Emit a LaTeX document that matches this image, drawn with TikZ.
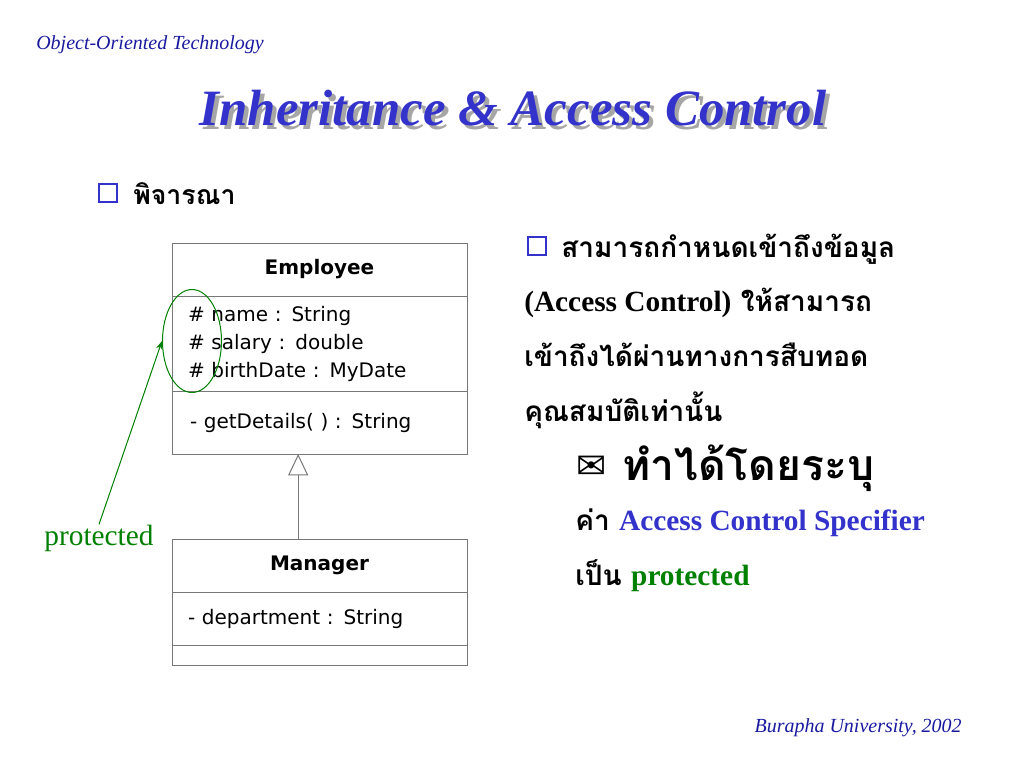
\documentclass[tikz,border=0pt]{standalone}
\usepackage{fontspec}
\setmainfont{Liberation Serif}
\newfontfamily\thaifont[Script=Thai]{Loma}
\newfontfamily\umlfont{DejaVu Sans}
\newfontfamily\symfont{DejaVu Sans}
\usetikzlibrary{arrows, arrows.meta, shapes, positioning}
\definecolor{titleblue}{RGB}{51,51,204}
\definecolor{headblue}{RGB}{26,26,160}
\definecolor{markgreen}{RGB}{0,128,0}
\definecolor{umlgray}{RGB}{120,120,120}

\begin{document}
\begin{tikzpicture}[x=0.75pt, y=-0.75pt,
    compart/.style={draw=umlgray, line width=0.75pt, minimum width=221.25pt,
        inner sep=0pt, outer sep=0pt, font=\umlfont\fontsize{15}{21}\selectfont},
    members/.style={compart, text width=197.25pt, inner xsep=12pt, align=left},
    bulletbox/.style={draw=titleblue, line width=1.5pt, minimum size=13pt, inner sep=0pt},
    thai/.style={anchor=base west, inner sep=0pt, font=\thaifont\bfseries\fontsize{21}{24}\selectfont},
    inherit/.style={draw=umlgray, line width=0.75pt, -{Triangle[width=15pt, length=16pt, fill=white]}}]
    \fill[white] (0,0) rectangle (1024,768);
    \useasboundingbox (0,0) rectangle (1024,768);

    % header and title
    \node[anchor=base west, inner sep=0pt, text=headblue, font=\itshape\fontsize{15}{18}\selectfont] (course) at (36,49) {Object-Oriented Technology};
    \node[anchor=base, inner sep=0pt, text=black!35, font=\bfseries\itshape\fontsize{38.2}{44}\selectfont] (titleshadow) at (517,129) {Inheritance \& Access Control};
    \node[anchor=base, inner sep=0pt, text=titleblue, font=\bfseries\itshape\fontsize{38.2}{44}\selectfont] (title) at (513,125) {Inheritance \& Access Control};

    \node[bulletbox] (b1) at (108,193) {};
    \node[thai, font=\thaifont\bfseries\fontsize{20}{24}\selectfont] (consider) at (133,204) {พิจารณา};

    % Employee class
    \node[compart, minimum height=39.75pt] (emptitle) at (319.5,269.5) {\textbf{Employee}};
    \node[members, minimum height=71.25pt] (empattrs) at (319.5,343.5) {\# name : String\\ \# salary : double\\ \# birthDate : MyDate};
    \node[members, minimum height=47.25pt] (empops) at (319.5,422.5) {\hspace{1.5pt}- getDetails( ) : String};

    % Manager class
    \node[compart, minimum height=39.75pt] (mgrtitle) at (319.5,565.5) {\textbf{Manager}};
    \node[members, minimum height=39.75pt] (mgrattrs) at (319.5,618.5) {- department : String};
    \node[compart, minimum height=15pt] (mgrops) at (319.5,655) {};

    \draw[inherit] ([xshift=-16pt]mgrtitle.north) -- ([xshift=-16pt]empops.south);

    % protected mark
    \node[draw=markgreen, ellipse, line width=0.75pt, minimum width=44.25pt, minimum height=77.25pt, inner sep=0pt] (attrmark) at (192,341) {};
    \node[anchor=base, inner sep=0pt, text=markgreen, font=\fontsize{22}{26}\selectfont] (prot) at (99,545) {protected};
    \draw[->, >=Stealth, draw=markgreen, line width=0.75pt] (prot.north) -- (attrmark.west);

    % right text
    \node[bulletbox] (b2) at (537,246) {};
    \node[thai] (line1) at (561,257) {สามารถกำหนดเข้าถึงข้อมูล};
    \node[thai] (line2) at (524,311) {{\rmfamily\bfseries\fontsize{22}{26}\selectfont (Access Control)} ให้สามารถ};
    \node[thai] (line3) at (524,366) {เข้าถึงได้ผ่านทางการสืบทอด};
    \node[thai] (line4) at (524,421) {คุณสมบัติเท่านั้น};

    \node[anchor=base west, inner sep=0pt, font=\symfont\fontsize{27}{28}\selectfont] (env) at (576,478) {✉};
    \node[thai, font=\thaifont\bfseries\fontsize{32}{36}\selectfont] (specify) at (622,480) {ทำได้โดยระบุ};
    \node[thai] (line5) at (575,530) {ค่า {\rmfamily\bfseries\color{titleblue}\fontsize{22}{26}\selectfont Access Control Specifier}};
    \node[thai] (line6) at (575,585) {เป็น {\rmfamily\bfseries\color{markgreen}\fontsize{22}{26}\selectfont protected}};

    % footer
    \node[anchor=base east, inner sep=0pt, text=headblue, font=\itshape\fontsize{15}{18}\selectfont] (school) at (962,732) {Burapha University, 2002};
\end{tikzpicture}
\end{document}
